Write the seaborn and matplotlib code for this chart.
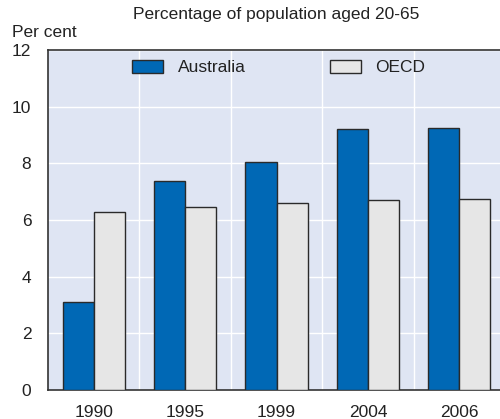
import matplotlib
matplotlib.use("Agg")
import matplotlib.pyplot as plt
import seaborn as sns
import pandas as pd
from matplotlib.ticker import MultipleLocator, FixedLocator

years = ["1990", "1995", "1999", "2004", "2006"]
australia = [3.12, 7.38, 8.04, 9.21, 9.26]
oecd = [6.29, 6.47, 6.61, 6.72, 6.75]
series = ["Australia", "OECD"]

df = pd.DataFrame({
    "year": years * 2,
    "value": australia + oecd,
    "series": [series[0]] * len(years) + [series[1]] * len(years),
})

sns.set_style("white")
plt.rcParams["font.family"] = ["Liberation Sans", "DejaVu Sans"]
FS = 12.5

fig = plt.figure(figsize=(5.0, 4.19), dpi=100)
ax = fig.add_axes([0.096, 0.0692, 0.914, 0.8115])
ax.set_facecolor("#dfe5f3")

sns.barplot(data=df, x="year", y="value", hue="series", order=years,
            hue_order=series, palette=["#0068b5", "#e6e6e6"], saturation=1,
            width=0.68, edgecolor="#2a2a2a", linewidth=1.0, ax=ax, zorder=3)

ax.set_xlim(-0.5, 4.5)
ax.set_ylim(0, 12)
ax.yaxis.set_major_locator(MultipleLocator(2))
ax.xaxis.set_minor_locator(FixedLocator([0.5, 1.5, 2.5, 3.5]))
ax.grid(True, which="major", axis="y", color="white", linewidth=1.0, zorder=0)
ax.grid(True, which="minor", axis="x", color="white", linewidth=1.0, zorder=0)
ax.set_axisbelow(True)

ax.tick_params(axis="y", which="major", direction="in", length=6, width=0.8,
               color="#555555", labelsize=FS, pad=12, labelcolor="#222222")
ax.tick_params(axis="x", which="major", length=0, labelsize=FS, pad=11,
               labelcolor="#222222")
ax.tick_params(axis="x", which="minor", direction="in", length=6, width=0.8,
               color="#555555")

ax.set_xlabel("")
ax.set_ylabel("")
for side in ["left", "bottom", "top"]:
    ax.spines[side].set_visible(True)
    ax.spines[side].set_color("#333333")
    ax.spines[side].set_linewidth(1.2)
ax.spines["right"].set_visible(False)

handles, labels = ax.get_legend_handles_labels()
ax.legend(handles, labels, ncol=2, frameon=False, loc="upper left",
          bbox_to_anchor=(0.184, 0.972), borderpad=0, borderaxespad=0,
          fontsize=FS, handlelength=1.78, handleheight=0.8,
          handletextpad=0.86, columnspacing=4.83, labelcolor="#222222")

fig.text(0.024, 0.905, "Per cent", fontsize=FS, color="#222222", va="bottom")
fig.text(0.552, 0.965, "Percentage of population aged 20-65", fontsize=FS,
         color="#222222", ha="center", va="center")

fig.savefig("out.png", dpi=100)
